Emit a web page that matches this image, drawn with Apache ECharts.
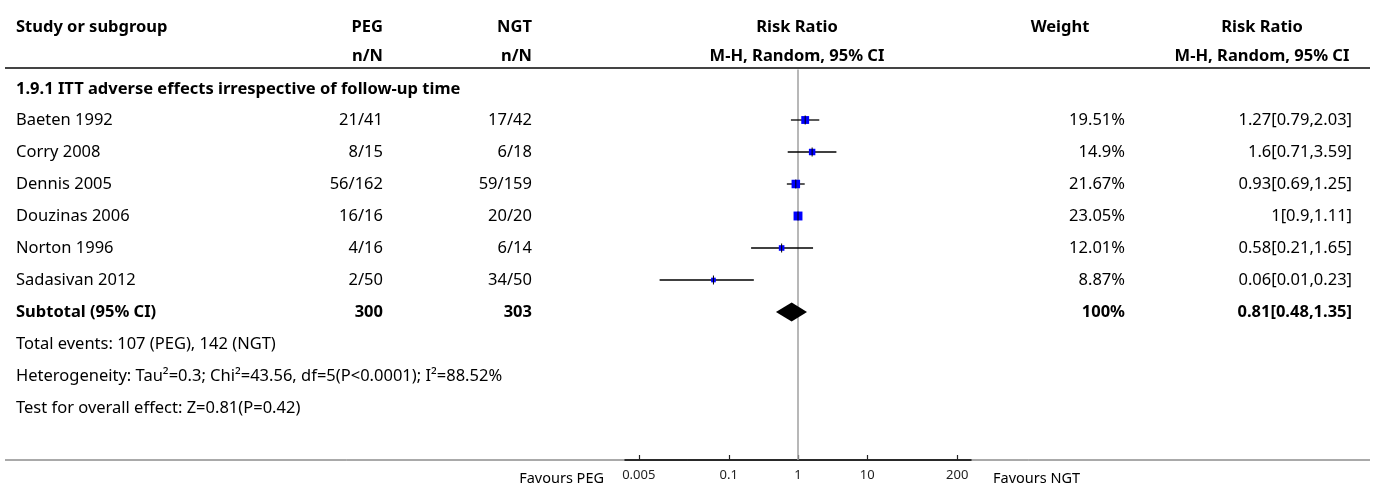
<!DOCTYPE html>
<html>
<head>
<meta charset="utf-8">
<script src="https://cdn.jsdelivr.net/npm/echarts@6/dist/echarts.min.js"></script>
<style>
html,body{margin:0;padding:0;background:#fff;}
#chart{width:1375px;height:489px;}
</style>
</head>
<body>
<div id="chart"></div>
<script>
// ---- data ----
const studies = ['Baeten 1992','Corry 2008','Dennis 2005','Douzinas 2006','Norton 1996','Sadasivan 2012'];
const pegEvents = [21, 8, 56, 16, 4, 2];
const pegTotal  = [41, 15, 162, 16, 16, 50];
const ngtEvents = [17, 6, 59, 20, 6, 34];
const ngtTotal  = [42, 18, 159, 20, 14, 50];
const weights   = [19.51, 14.9, 21.67, 23.05, 12.01, 8.87];
const rr        = [1.27, 1.6, 0.93, 1, 0.58, 0.06];
const rrLow     = [0.79, 0.71, 0.69, 0.9, 0.21, 0.01];
const rrHigh    = [2.03, 3.59, 1.25, 1.11, 1.65, 0.23];
const subtotal  = {peg: 300, ngt: 303, weight: '100%', rr: 0.81, lo: 0.48, hi: 1.35};
const tickValues = [0.005, 0.1, 1, 10, 200];
const tickLabels = ['0.005', '0.1', '1', '10', '200'];
const subgroupTitle = '1.9.1 ITT adverse effects irrespective of follow-up time';
const footLines = [
  'Total events: 107 (PEG), 142 (NGT)',
  'Heterogeneity: Tau\u00b2=0.3; Chi\u00b2=43.56, df=5(P<0.0001); I\u00b2=88.52%',
  'Test for overall effect: Z=0.81(P=0.42)'
];

// ---- layout ----
const FONT = '"Noto Sans", sans-serif';
const FS = 16.5;
const lg = Math.log10;
const chart = echarts.init(document.getElementById('chart'), null, {renderer: 'canvas'});

const studyData = studies.map((s, i) => [lg(rr[i]), i, lg(rrLow[i]), lg(rrHigh[i]), weights[i]]);

const option = {
  animation: false,
  grid: {left: 625, right: 404, top: 68, bottom: 29},
  xAxis: {
    type: 'value', min: -2.5, max: 2.5, position: 'bottom',
    axisLine: {onZero: false, lineStyle: {color: '#000', width: 1.5}},
    axisTick: {show: true, inside: true, length: 5, lineStyle: {color: '#222', width: 1.2}, customValues: tickValues.map(lg)},
    axisLabel: {
      customValues: tickValues.map(lg), margin: 9, fontSize: 13, color: '#222', fontFamily: FONT,
      formatter: v => { let k = 0, d = 1e9; tickValues.forEach((t, j) => { const dd = Math.abs(lg(t) - v); if (dd < d) {d = dd; k = j;} }); return tickLabels[k]; }
    },
    splitLine: {show: false}
  },
  yAxis: {type: 'value', inverse: true, min: -1.625, max: 10.625, show: false},
  series: [
    {
      type: 'line', data: [[0, -1.58], [0, 10.625]], symbol: 'none', silent: true,
      lineStyle: {color: '#a0a0a0', width: 1.5}, z: 1
    },
    {
      type: 'custom', data: studyData, z: 5,
      renderItem: (params, api) => {
        const c = api.coord([api.value(0), api.value(1)]);
        const l = api.coord([api.value(2), api.value(1)]);
        const h = api.coord([api.value(3), api.value(1)]);
        const s = 2 + 0.3 * api.value(4);
        return {
          type: 'group', children: [
            {type: 'line', shape: {x1: l[0], y1: c[1], x2: h[0], y2: c[1]}, style: {stroke: '#000', lineWidth: 1.3}},
            {type: 'rect', shape: {x: c[0] - s / 2, y: c[1] - s / 2, width: s, height: s}, style: {fill: '#0000ff'}},
            {type: 'line', shape: {x1: c[0], y1: c[1] - 4.5, x2: c[0], y2: c[1] + 4.5}, style: {stroke: '#000', lineWidth: 1}}
          ]
        };
      }
    },
    {
      type: 'custom', data: [[lg(subtotal.rr), 6, lg(subtotal.lo), lg(subtotal.hi)]], z: 5,
      renderItem: (params, api) => {
        const c = api.coord([api.value(0), api.value(1)]);
        const l = api.coord([api.value(2), api.value(1)]);
        const h = api.coord([api.value(3), api.value(1)]);
        return {type: 'polygon', shape: {points: [[l[0], c[1]], [c[0], c[1] - 9.5], [h[0], c[1]], [c[0], c[1] + 9.5]]}, style: {fill: '#000'}};
      }
    }
  ]
};
chart.setOption(option);

const rowY = r => chart.convertToPixel({yAxisIndex: 0}, r);
const texts = [];
function t(str, x, y, align, bold, size, color) {
  texts.push({type: 'text', x: x, y: y, silent: true, z: 10,
    style: {text: str, fill: color || '#000', font: (bold ? 'bold ' : '') + (size || FS) + 'px ' + FONT, textAlign: align, textVerticalAlign: 'middle'}});
}
const COL = {name: 16, peg: 383, ngt: 532, rrHead: 797, wHead: 1060, w: 1125, rrcHead: 1262, rrc: 1352};
// headers
t('Study or subgroup', COL.name, 27, 'left', true);
t('PEG', COL.peg, 27, 'right', true);
t('NGT', COL.ngt, 27, 'right', true);
t('Risk Ratio', COL.rrHead, 27, 'center', true);
t('Weight', COL.wHead, 27, 'center', true);
t('Risk Ratio', COL.rrcHead, 27, 'center', true);
t('n/N', COL.peg, 56, 'right', true);
t('n/N', COL.ngt, 56, 'right', true);
t('M-H, Random, 95% CI', COL.rrHead, 56, 'center', true);
t('M-H, Random, 95% CI', COL.rrcHead, 56, 'center', true);
t(subgroupTitle, COL.name, rowY(-1) + 1, 'left', true);
studies.forEach((s, i) => {
  const y = rowY(i);
  t(s, COL.name, y, 'left');
  t(pegEvents[i] + '/' + pegTotal[i], COL.peg, y, 'right');
  t(ngtEvents[i] + '/' + ngtTotal[i], COL.ngt, y, 'right');
  t(weights[i] + '%', COL.w, y, 'right');
  t(rr[i] + '[' + rrLow[i] + ',' + rrHigh[i] + ']', COL.rrc, y, 'right');
});
const ys = rowY(6);
t('Subtotal (95% CI)', COL.name, ys, 'left', true);
t(String(subtotal.peg), COL.peg, ys, 'right', true);
t(String(subtotal.ngt), COL.ngt, ys, 'right', true);
t(subtotal.weight, COL.w, ys, 'right', true);
t(subtotal.rr + '[' + subtotal.lo + ',' + subtotal.hi + ']', COL.rrc, ys, 'right', true);
footLines.forEach((s, k) => t(s, COL.name, rowY(7 + k), 'left'));
t('Favours PEG', 604, 479, 'right', false, 14.5);
t('Favours NGT', 993, 479, 'left', false, 14.5);

const lines = [
  {type: 'line', silent: true, z: 0, shape: {x1: 5, y1: 68, x2: 1370, y2: 68}, style: {stroke: '#444', lineWidth: 2}},
  {type: 'line', silent: true, z: 0, shape: {x1: 5, y1: 460, x2: 1370, y2: 460}, style: {stroke: '#555', lineWidth: 1}}
];
chart.setOption({graphic: {elements: lines.concat(texts)}});
</script>
</body>
</html>
